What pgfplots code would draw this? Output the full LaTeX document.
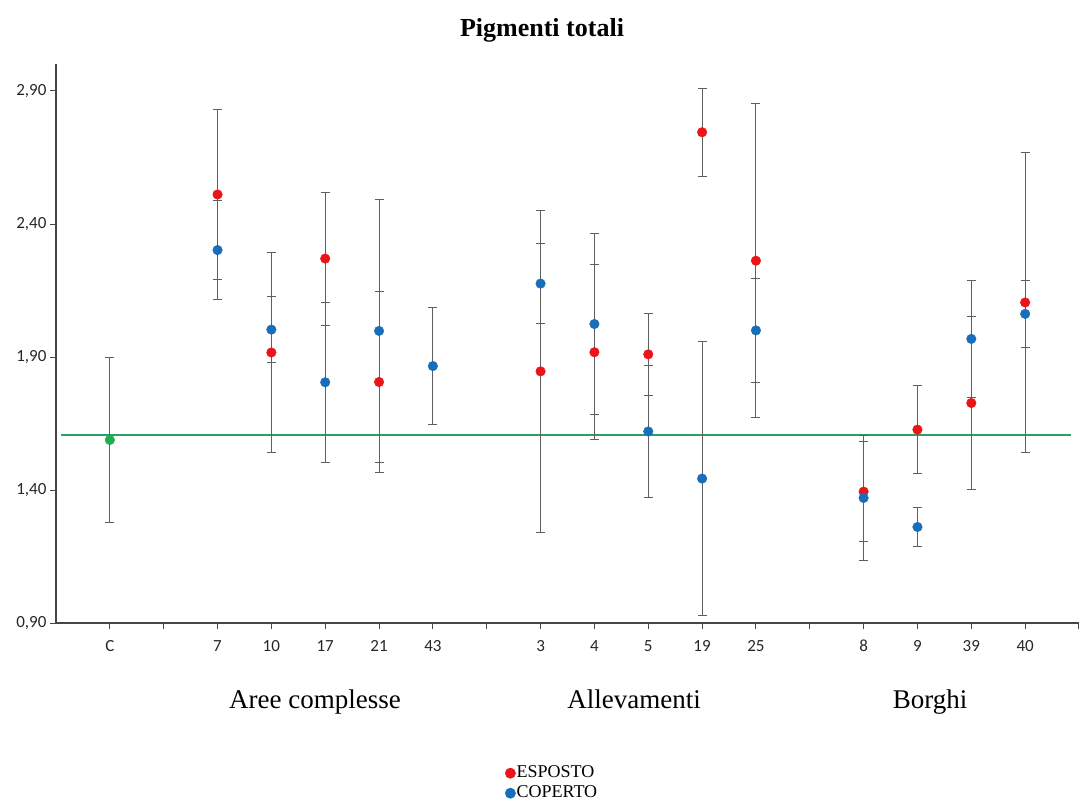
\documentclass[border=0pt]{standalone}
\usepackage{pgfplots}
\usepackage{pgfplotstable}
\pgfplotsset{compat=1.18}
\usepackage{fontspec}
\setmainfont{Liberation Serif}
\newfontfamily\tickfont{Carlito}
\definecolor{redpt}{RGB}{235,20,25}
\definecolor{bluept}{RGB}{24,110,185}
\definecolor{greenpt}{RGB}{30,175,80}
\definecolor{greenline}{RGB}{40,160,105}
\definecolor{errgray}{RGB}{95,95,95}
\definecolor{axisgray}{RGB}{70,70,70}

% x: 0=C, 2=7, 3=10, 4=17, 5=21, 6=43, 8=3, 9=4, 10=5, 11=19, 12=25, 14=8, 15=9, 16=39, 17=40
\pgfplotstableread{
x y e
2 2.511 0.318
3 1.917 0.375
4 2.270 0.250
5 1.806 0.342
8 1.846 0.604
9 1.918 0.328
10 1.910 0.154
11 2.745 0.165
12 2.262 0.590
14 1.394 0.188
15 1.627 0.164
16 1.727 0.326
17 2.105 0.565
}\esposto
\pgfplotstableread{
x y e
2 2.302 0.185
3 2.003 0.123
4 1.805 0.300
5 1.998 0.495
6 1.866 0.219
8 2.176 0.151
9 2.024 0.339
10 1.620 0.249
11 1.443 0.515
12 2.000 0.194
14 1.370 0.236
15 1.261 0.073
16 1.968 0.220
17 2.062 0.127
}\coperto
\pgfplotstableread{
x y e
0 1.588 0.311
}\controllo

\begin{document}
\begin{tikzpicture}
\path[use as bounding box] (0pt,0pt) rectangle (1081pt,801pt);
\begin{axis}[
  at={(56pt,178pt)}, anchor=south west,
  scale only axis, width=1023pt, height=558.6pt,
  xmin=-1, xmax=18, ymin=0.9, ymax=3.0,
  axis lines*=left,
  axis line style={draw=axisgray, line width=1.2pt},
  tick style={draw=axisgray, line width=1pt},
  tick align=outside,
  major tick length=6pt,
  xtick={0,...,18},
  xticklabels={C,,7,10,17,21,43,,3,4,5,19,25,,8,9,39,40,},
  ytick={0.9,1.4,1.9,2.4,2.9},
  yticklabels={{0,90},{1,40},{1,90},{2,40},{2,90}},
  ticklabel style={font=\tickfont\fontsize{17}{17}\selectfont, text=black!85},
  xticklabel style={anchor=base, yshift=-22pt, text height=11pt},
  yticklabel style={xshift=0pt},
  legend style={at={(0.4389,-0.2506)}, anchor=north west, draw=none, fill=none,
    font=\fontsize{18}{20}\selectfont, row sep=0pt, inner sep=0pt,
    nodes={inner sep=1pt, text height=13pt, text depth=5pt}},
  legend cell align=left,
  legend image code/.code={\draw[#1, mark size=5.2pt] plot coordinates {(4pt,0pt)};},
  clip=false,
]
\addplot[greenline, line width=1.2pt, forget plot] coordinates {(-0.9,1.607) (17.85,1.607)};

\addplot[only marks, mark=none, forget plot,
  error bars/.cd, y dir=both, y explicit,
  error bar style={errgray, line width=1pt},
  error mark options={errgray, line width=1pt, mark size=4.5pt, rotate=90}]
  table[x=x, y=y, y error=e] {\controllo};
\addplot[only marks, mark=none, forget plot,
  error bars/.cd, y dir=both, y explicit,
  error bar style={errgray, line width=1pt},
  error mark options={errgray, line width=1pt, mark size=4.5pt, rotate=90}]
  table[x=x, y=y, y error=e] {\esposto};
\addplot[only marks, mark=none, forget plot,
  error bars/.cd, y dir=both, y explicit,
  error bar style={errgray, line width=1pt},
  error mark options={errgray, line width=1pt, mark size=4.5pt, rotate=90}]
  table[x=x, y=y, y error=e] {\coperto};

\addplot[only marks, mark=*, mark size=4.8pt, color=greenpt, forget plot] table[x=x, y=y] {\controllo};
\addplot[only marks, mark=*, mark size=4.8pt, color=redpt] table[x=x, y=y] {\esposto};
\addlegendentry{ESPOSTO}
\addplot[only marks, mark=*, mark size=4.8pt, color=bluept] table[x=x, y=y] {\coperto};
\addlegendentry{COPERTO}
\end{axis}
\node[font=\bfseries\fontsize{26}{26}\selectfont, anchor=base] at (542pt,764pt) {Pigmenti totali};
\node[font=\fontsize{27}{27}\selectfont, anchor=base] at (315pt,93pt) {Aree complesse};
\node[font=\fontsize{27}{27}\selectfont, anchor=base] at (634pt,93pt) {Allevamenti};
\node[font=\fontsize{27}{27}\selectfont, anchor=base] at (930pt,93pt) {Borghi};
\end{tikzpicture}
\end{document}
